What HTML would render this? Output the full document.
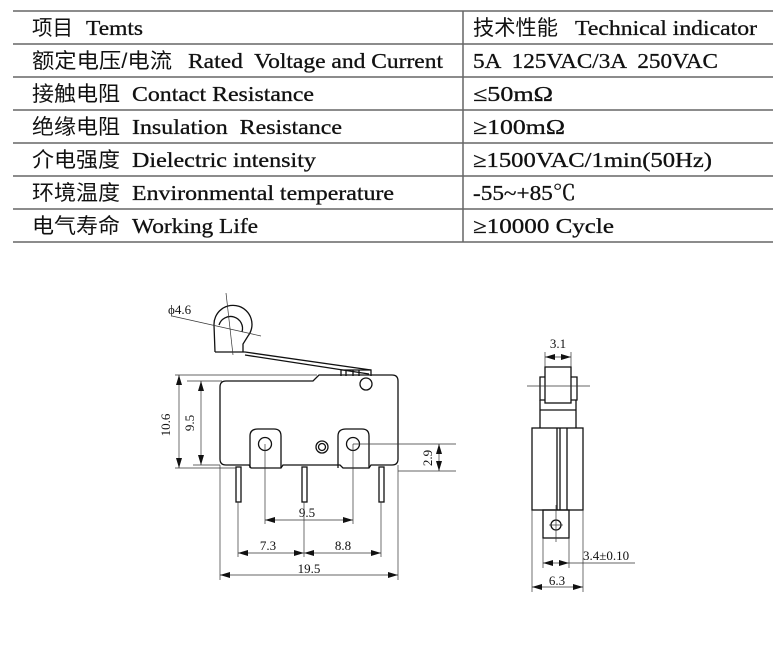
<!DOCTYPE html>
<html><head><meta charset="utf-8"><style>
html,body{margin:0;padding:0;background:#fff;width:780px;height:671px;overflow:hidden}
svg{display:block}
.t{font-family:"Liberation Serif","Noto Serif CJK SC",serif;font-size:21px;fill:#111;stroke:#111;stroke-width:0.3}
.c{font-family:"Liberation Sans","Noto Sans CJK SC",sans-serif;font-size:21px;fill:#111}
.d{font-family:"Liberation Serif",serif;font-size:13px;fill:#111}
</style></head><body>
<svg width="780" height="671" viewBox="0 0 780 671" xmlns="http://www.w3.org/2000/svg">
<defs>
<marker id="a" viewBox="0 0 10 6" refX="10" refY="3" markerWidth="10" markerHeight="6" orient="auto-start-reverse" markerUnits="userSpaceOnUse"><path d="M0,0L10,3L0,6z" fill="#111"/></marker>
</defs>
<g stroke="#666" stroke-width="1.5">
<line x1="13" y1="11" x2="773" y2="11"/>
<line x1="13" y1="44" x2="773" y2="44"/>
<line x1="13" y1="77" x2="773" y2="77"/>
<line x1="13" y1="110" x2="773" y2="110"/>
<line x1="13" y1="143" x2="773" y2="143"/>
<line x1="13" y1="176" x2="773" y2="176"/>
<line x1="13" y1="209" x2="773" y2="209"/>
<line x1="13" y1="242" x2="773" y2="242"/>
<line x1="463" y1="11" x2="463" y2="242"/>
</g>
<g>
<text class="c" x="32" y="35" textLength="41" lengthAdjust="spacingAndGlyphs">项目</text>
<text class="t" x="86" y="35" textLength="57" lengthAdjust="spacingAndGlyphs">Temts</text>
<text class="c" x="32" y="68" textLength="140" lengthAdjust="spacingAndGlyphs">额定电压/电流</text>
<text class="t" x="188" y="68" textLength="255" lengthAdjust="spacingAndGlyphs" xml:space="preserve">Rated  Voltage and Current</text>
<text class="c" x="32" y="101" textLength="88" lengthAdjust="spacingAndGlyphs">接触电阻</text>
<text class="t" x="132" y="101" textLength="182" lengthAdjust="spacingAndGlyphs">Contact Resistance</text>
<text class="c" x="32" y="134" textLength="88" lengthAdjust="spacingAndGlyphs">绝缘电阻</text>
<text class="t" x="132" y="134" textLength="210" lengthAdjust="spacingAndGlyphs" xml:space="preserve">Insulation  Resistance</text>
<text class="c" x="32" y="167" textLength="88" lengthAdjust="spacingAndGlyphs">介电强度</text>
<text class="t" x="132" y="167" textLength="184" lengthAdjust="spacingAndGlyphs">Dielectric intensity</text>
<text class="c" x="32" y="200" textLength="88" lengthAdjust="spacingAndGlyphs">环境温度</text>
<text class="t" x="132" y="200" textLength="262" lengthAdjust="spacingAndGlyphs">Environmental temperature</text>
<text class="c" x="32" y="233" textLength="88" lengthAdjust="spacingAndGlyphs">电气寿命</text>
<text class="t" x="132" y="233" textLength="126" lengthAdjust="spacingAndGlyphs">Working Life</text>
<text class="c" x="473" y="35" textLength="85" lengthAdjust="spacingAndGlyphs">技术性能</text>
<text class="t" x="575" y="35" textLength="182" lengthAdjust="spacingAndGlyphs">Technical indicator</text>
<text class="t" x="473" y="68" textLength="245" lengthAdjust="spacingAndGlyphs" xml:space="preserve">5A  125VAC/3A  250VAC</text>
<text class="t" x="473" y="101" textLength="80" lengthAdjust="spacingAndGlyphs">≤50mΩ</text>
<text class="t" x="473" y="134" textLength="92" lengthAdjust="spacingAndGlyphs">≥100mΩ</text>
<text class="t" x="473" y="167" textLength="239" lengthAdjust="spacingAndGlyphs">≥1500VAC/1min(50Hz)</text>
<text class="t" x="473" y="200" textLength="103" lengthAdjust="spacingAndGlyphs">-55~+85℃</text>
<text class="t" x="473" y="233" textLength="141" lengthAdjust="spacingAndGlyphs">≥10000 Cycle</text>
</g>
<!-- front view -->
<g fill="none" stroke="#111" stroke-width="1.3">
<path d="M226,381 L313,381 L319,375 L392,375 Q398,375 398,381 L398,459 Q398,465 392,465 L371,465 L369,468 L343,468 L340,465 L283,465 L281,468 L251,468 L249,465 L226,465 Q220,465 220,459 L220,387 Q220,381 226,381Z"/>
<path d="M250,468 L250,436 Q250,429 258,429 L274,429 Q281,429 281,436 L281,468"/>
<path d="M338,468 L338,436 Q338,429 346,429 L362,429 Q369,429 369,436 L369,468"/>
<circle cx="265" cy="444" r="6.5"/>
<circle cx="353" cy="444" r="6.5"/>
<circle cx="322" cy="447" r="6"/><circle cx="322" cy="447" r="3.5"/>
<circle cx="366" cy="384" r="6"/>
<rect x="236" y="467" width="5" height="35"/>
<rect x="302" y="467" width="5" height="35"/>
<rect x="379" y="467" width="5" height="35"/>
<path d="M341,370 L371,370 L371,376 M341,370 L341,376 M346,370 L346,376 M353,370 L353,376 M359,370 L359,376"/>
<path d="M215,352 L214,325 A19,19 0 1 1 248,336 L243,344 L243,352 M215,352 L245,352 L371,370 M245,355 L369,374"/>
<path d="M219,325 A12,12 0 1 1 242,332"/>
</g>
<g stroke="#333" stroke-width="0.7" fill="none">
<line x1="226" y1="293" x2="233" y2="355"/>
<line x1="172" y1="316" x2="261" y2="336"/>
<line x1="175" y1="375" x2="317" y2="375"/>
<line x1="187" y1="381" x2="222" y2="381"/>
<line x1="193" y1="465" x2="220" y2="465"/>
<line x1="175" y1="468" x2="236" y2="468"/>
<line x1="353" y1="444" x2="456" y2="444"/>
<line x1="398" y1="471" x2="456" y2="471"/>
<line x1="265" y1="444" x2="265" y2="524"/>
<line x1="353" y1="444" x2="353" y2="524"/>
<line x1="238" y1="502" x2="238" y2="557"/>
<line x1="304" y1="502" x2="304" y2="557"/>
<line x1="381" y1="502" x2="381" y2="557"/>
<line x1="220" y1="465" x2="220" y2="580"/>
<line x1="398" y1="465" x2="398" y2="580"/>
<line x1="179" y1="375" x2="179" y2="468" marker-start="url(#a)" marker-end="url(#a)"/>
<line x1="201" y1="381" x2="201" y2="465" marker-start="url(#a)" marker-end="url(#a)"/>
<line x1="439" y1="444" x2="439" y2="471" marker-start="url(#a)" marker-end="url(#a)"/>
<line x1="265" y1="520" x2="353" y2="520" marker-start="url(#a)" marker-end="url(#a)"/>
<line x1="238" y1="553" x2="304" y2="553" marker-start="url(#a)" marker-end="url(#a)"/>
<line x1="304" y1="553" x2="381" y2="553" marker-start="url(#a)" marker-end="url(#a)"/>
<line x1="220" y1="575" x2="398" y2="575" marker-start="url(#a)" marker-end="url(#a)"/>
</g>
<text class="d" x="168" y="314">ϕ4.6</text>
<text class="d" transform="translate(170,425) rotate(-90)" text-anchor="middle">10.6</text>
<text class="d" transform="translate(194,423) rotate(-90)" text-anchor="middle">9.5</text>
<text class="d" transform="translate(432,458) rotate(-90)" text-anchor="middle">2.9</text>
<text class="d" x="307" y="517" text-anchor="middle">9.5</text>
<text class="d" x="268" y="550" text-anchor="middle">7.3</text>
<text class="d" x="343" y="550" text-anchor="middle">8.8</text>
<text class="d" x="309" y="573" text-anchor="middle">19.5</text>
<!-- side view -->
<g fill="none" stroke="#111" stroke-width="1.3">
<rect x="545" y="367" width="26" height="36"/>
<path d="M545,377 L540,377 L540,400 L545,400 M571,377 L577,377 L577,400 L571,400"/>
<path d="M540,400 L540,428 M576,400 L576,428 M540,410 L576,410"/>
<rect x="532" y="428" width="51" height="82"/>
<line x1="557" y1="428" x2="557" y2="510"/>
<line x1="560" y1="428" x2="560" y2="510"/>
<line x1="567" y1="428" x2="567" y2="510"/>
<rect x="543" y="510" width="26" height="28"/>
<circle cx="556" cy="525" r="5"/>
</g>
<g stroke="#333" stroke-width="0.7" fill="none">
<line x1="527" y1="386" x2="590" y2="386"/>
<line x1="556" y1="505" x2="556" y2="542"/>
<line x1="549" y1="525" x2="563" y2="525"/>
<line x1="545" y1="352" x2="545" y2="367"/>
<line x1="571" y1="352" x2="571" y2="367"/>
<line x1="545" y1="357" x2="571" y2="357" marker-start="url(#a)" marker-end="url(#a)"/>
<line x1="543" y1="538" x2="543" y2="568"/>
<line x1="569" y1="538" x2="569" y2="568"/>
<line x1="543" y1="563" x2="569" y2="563" marker-start="url(#a)" marker-end="url(#a)"/>
<line x1="569" y1="563" x2="635" y2="563"/>
<line x1="532" y1="510" x2="532" y2="592"/>
<line x1="583" y1="510" x2="583" y2="592"/>
<line x1="532" y1="587" x2="583" y2="587" marker-start="url(#a)" marker-end="url(#a)"/>
</g>
<text class="d" x="558" y="348" text-anchor="middle">3.1</text>
<text class="d" x="583" y="560">3.4±0.10</text>
<text class="d" x="557" y="585" text-anchor="middle">6.3</text>
</svg>
</body></html>
